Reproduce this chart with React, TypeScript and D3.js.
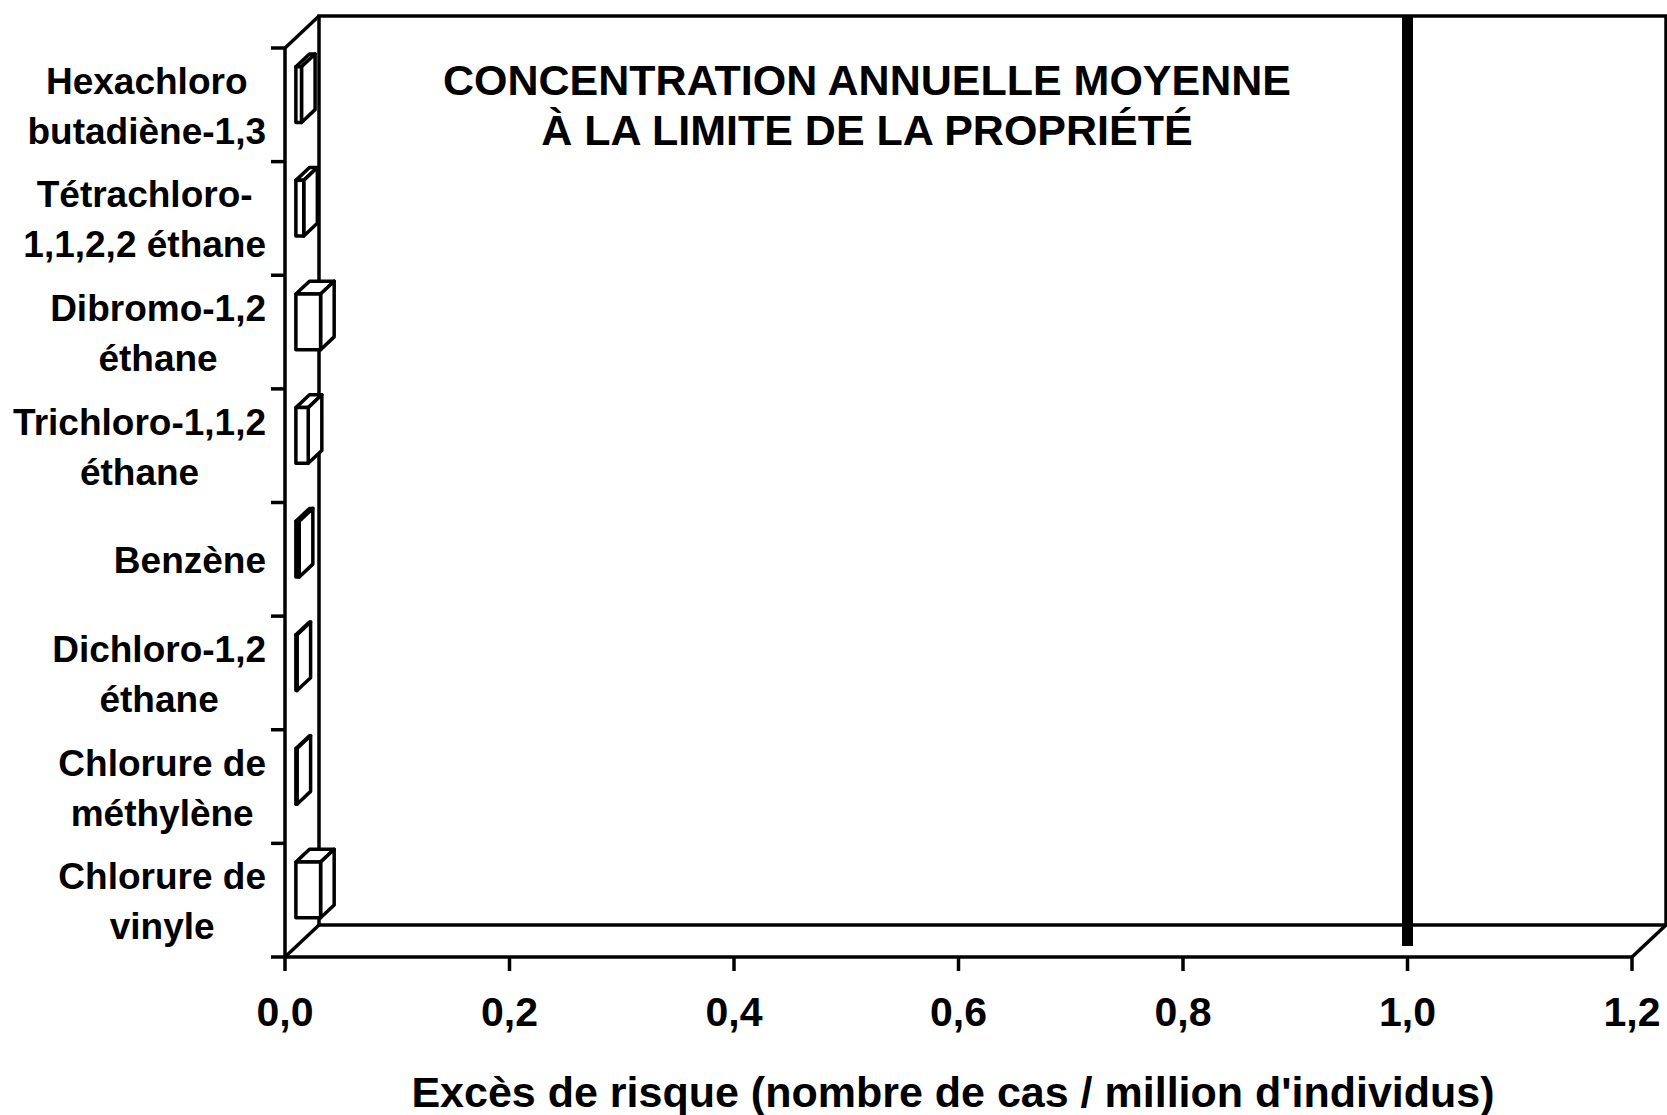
import React, { useEffect, useRef } from "react";
import * as d3 from "d3";

// category labels (line breaks with "\n"), top to bottom
const categories = [
  "Hexachloro\nbutadiène-1,3",
  "Tétrachloro-\n1,1,2,2 éthane",
  "Dibromo-1,2\néthane",
  "Trichloro-1,1,2\néthane",
  "Benzène",
  "Dichloro-1,2\néthane",
  "Chlorure de\nméthylène",
  "Chlorure de\nvinyle",
];

// excess risk per category (cases / million)
const values = [0.005, 0.007, 0.022, 0.011, 0.003, 0.001, 0.001, 0.022];

const xTicks = [0, 0.2, 0.4, 0.6, 0.8, 1.0, 1.2];
const limitValue = 1.0;

const titleLines = [
  "CONCENTRATION ANNUELLE MOYENNE",
  "À LA LIMITE DE LA PROPRIÉTÉ",
];
const xTitle = "Excès de risque (nombre de cas / million d'individus)";

export default function App() {
  const width = 1667;
  const height = 1115;
  const svgRef = useRef<SVGSVGElement>(null);

  useEffect(() => {
    const svg = d3.select(svgRef.current);
    svg.selectAll("*").remove();

    const font = "'Liberation Sans', Arial, sans-serif";
    const dx = 34;
    const dy = -32;
    const sw = 3.5;

    const x = d3.scaleLinear().domain([0, 1.2]).range([285, 1632]);
    const y = d3.scaleBand<string>().domain(categories).range([48, 957]);

    const x0 = x(0);
    const xMax = x(1.2);
    const yTop = y.range()[0];
    const yBot = y.range()[1];

    const g = svg.append("g").attr("fill", "none").attr("stroke", "#000").attr("stroke-width", sw);

    // back wall
    g.append("rect")
      .attr("x", x0 + dx)
      .attr("y", yTop + dy)
      .attr("width", xMax - x0)
      .attr("height", yBot - yTop)
      .attr("fill", "#fff");

    // left wall / floor edges
    g.append("line").attr("x1", x0).attr("y1", yTop).attr("x2", x0 + dx).attr("y2", yTop + dy);
    g.append("line").attr("x1", x0).attr("y1", yBot).attr("x2", x0 + dx).attr("y2", yBot + dy);
    g.append("line").attr("x1", xMax).attr("y1", yBot).attr("x2", xMax + dx).attr("y2", yBot + dy);

    // front axes
    g.append("line").attr("x1", x0).attr("y1", yTop).attr("x2", x0).attr("y2", yBot + 14);
    g.append("line").attr("x1", x0 - 14).attr("y1", yBot).attr("x2", xMax).attr("y2", yBot);

    // category ticks on band edges
    const edges = categories.map((c) => y(c) as number);
    g.selectAll(".ytick")
      .data(edges)
      .enter()
      .append("line")
      .attr("x1", x0 - 14)
      .attr("x2", x0)
      .attr("y1", (d) => d)
      .attr("y2", (d) => d);

    g.selectAll(".xtick")
      .data(xTicks.slice(1))
      .enter()
      .append("line")
      .attr("x1", (d) => x(d))
      .attr("x2", (d) => x(d))
      .attr("y1", yBot)
      .attr("y2", yBot + 14);

    // limit line at 1.0
    svg
      .append("rect")
      .attr("x", x(limitValue) - 5.5)
      .attr("y", yTop + dy)
      .attr("width", 11)
      .attr("height", yBot - 11 - (yTop + dy))
      .attr("fill", "#000");

    // 3D bars
    const t0 = 0.32;
    const t1 = 0.72;
    const bh = y.bandwidth() * 0.49;
    const bars = svg
      .append("g")
      .attr("fill", "#fff")
      .attr("stroke", "#000")
      .attr("stroke-width", sw)
      .attr("stroke-linejoin", "round");

    categories.forEach((c, i) => {
      const yc = (y(c) as number) + y.bandwidth() / 2;
      const fx0 = x0 + t0 * dx;
      const fx1 = x(values[i]) + t0 * dx;
      const fy0 = yc - bh / 2 + t0 * dy;
      const fy1 = yc + bh / 2 + t0 * dy;
      const ox = (t1 - t0) * dx;
      const oy = (t1 - t0) * dy;
      const poly = (pts: number[][]) => pts.map((p) => p.join(",")).join(" ");
      bars.append("polygon").attr(
        "points",
        poly([[fx0, fy0], [fx1, fy0], [fx1 + ox, fy0 + oy], [fx0 + ox, fy0 + oy]])
      );
      bars.append("polygon").attr(
        "points",
        poly([[fx1, fy0], [fx1 + ox, fy0 + oy], [fx1 + ox, fy1 + oy], [fx1, fy1]])
      );
      bars.append("rect")
        .attr("x", fx0)
        .attr("y", fy0)
        .attr("width", fx1 - fx0)
        .attr("height", fy1 - fy0);
    });

    // category labels: lines centered inside a right-aligned block
    const labels = svg.append("g").attr("font-family", font).attr("font-weight", "bold").attr("font-size", 37);
    categories.forEach((c) => {
      const lines = c.split("\n");
      const yc = (y(c) as number) + y.bandwidth() / 2;
      const lh = 50;
      const t = labels.append("text").attr("text-anchor", "middle");
      lines.forEach((ln, j) => {
        t.append("tspan")
          .attr("x", 0)
          .attr("y", yc + (j - (lines.length - 1) / 2) * lh + 14)
          .text(ln);
      });
      const w = d3.max(t.selectAll<SVGTSpanElement, unknown>("tspan").nodes(), (n) => n.getComputedTextLength()) ?? 0;
      t.selectAll("tspan").attr("x", 266 - w / 2);
    });

    // x tick labels
    svg
      .append("g")
      .attr("font-family", font)
      .attr("font-weight", "bold")
      .attr("font-size", 41)
      .attr("text-anchor", "middle")
      .selectAll("text")
      .data(xTicks)
      .enter()
      .append("text")
      .attr("x", (d) => x(d))
      .attr("y", 1026)
      .text((d) => d3.format(".1f")(d).replace(".", ","));

    // x axis title
    svg
      .append("text")
      .attr("x", 953)
      .attr("y", 1107)
      .attr("text-anchor", "middle")
      .attr("font-family", font)
      .attr("font-weight", "bold")
      .attr("font-size", 43)
      .text(xTitle);

    // chart title
    const tt = svg
      .append("text")
      .attr("text-anchor", "middle")
      .attr("font-family", font)
      .attr("font-weight", "bold")
      .attr("font-size", 43);
    titleLines.forEach((ln, j) => {
      tt.append("tspan").attr("x", 867).attr("y", 95 + j * 50).text(ln);
    });
  }, []);

  return (
    <svg
      ref={svgRef}
      width={width}
      height={height}
      style={{ position: "absolute", left: 0, top: 0, background: "#fff" }}
    ></svg>
  );
}
